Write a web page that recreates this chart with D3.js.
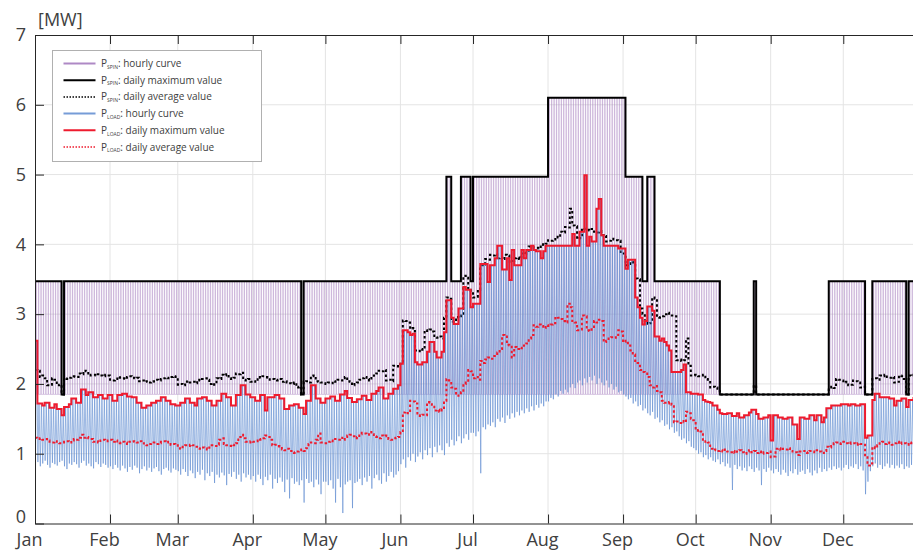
<!DOCTYPE html>
<html>
<head>
<meta charset="utf-8">
<script src="https://cdn.jsdelivr.net/npm/d3@7"></script>
<style>
  html, body { margin: 0; padding: 0; background: #fff; }
  svg { display: block; font-family: "Open Sans", "Noto Sans", "DejaVu Sans", sans-serif; }
</style>
</head>
<body>
<svg id="chart" width="913" height="554"></svg>
<script>
// ---- axis tick labels ----
const monthLabels = ["Jan","Feb","Mar","Apr","May","Jun","Jul","Aug","Sep","Oct","Nov","Dec"];
const monthStartDays = [0,31,59,90,120,151,181,212,243,273,304,334];
const yTickValues = [0,1,2,3,4,5,6,7];
const unitLabel = "[MW]";

// ---- P_SPIN daily maximum as runs: [first day, last day, MW] ----
const spinMaxRuns = [
  [0,10,3.47],[11,11,1.85],[12,109,3.47],[110,110,1.85],[111,169,3.47],
  [170,171,4.97],[172,175,3.47],[176,179,4.97],[180,180,3.47],[181,211,4.97],
  [212,243,6.1],[244,250,4.97],[251,252,3.47],[253,255,4.97],[256,282,3.47],
  [283,296,1.85],[297,297,3.47],[298,327,1.85],[328,342,3.47],[343,345,1.85],
  [346,359,3.47],[360,360,1.85],[361,364,3.47]
];
// lowest hourly P_SPIN level (one unit online)
const spinHourlyLow = 1.85;

// ---- P_SPIN daily average (one value per day of year) ----
const spinDailyAvg = [
  2.2,2.19,2.1,2.12,2.08,1.98,1.99,2.08,2.06,1.98,1.99,1.85,2.08,2.07,2.09,2.1,2.11,2.1,2.15,2.14,2.19,2.18,2.12,2.13,2.13,2.12,2.14,2.12,2.11,2.13,2.12,
  2.06,2.05,2.07,2.1,2.09,2.08,2.07,2.1,2.11,2.09,2.08,2.09,2.04,2.05,2.03,2.04,2.02,2.03,2.04,2.06,2.05,2.07,2.08,2.09,2.08,2.1,2.11,2.1,
  1.99,2.0,1.98,2.03,2.04,2.02,2.03,2.01,2.06,2.05,2.07,2.08,2.06,2.0,2.01,1.99,2.08,2.07,2.13,2.12,2.14,2.08,2.07,2.09,2.15,2.14,2.16,2.06,2.05,2.07,2.03,
  2.04,2.03,2.1,2.09,2.11,2.1,2.09,2.06,2.07,2.06,2.05,2.07,2.03,2.04,2.02,2.01,2.0,2.02,1.95,1.96,1.85,2.03,2.04,2.02,2.11,2.12,2.04,2.03,2.02,2.01,
  2.0,2.02,2.01,2.04,2.03,2.06,2.05,2.08,2.1,2.04,2.03,1.98,2.0,2.02,2.06,2.08,2.1,2.07,2.05,2.1,2.12,2.15,2.19,2.18,2.2,2.05,2.06,2.04,2.26,2.25,2.27,
  2.29,2.91,2.9,2.88,2.79,2.8,2.48,2.47,2.5,2.49,2.77,2.76,2.78,2.75,2.67,2.66,2.68,2.65,2.95,3.24,3.22,2.89,2.9,2.96,2.95,2.98,3.55,3.52,3.35,3.33,
  3.24,3.25,3.35,3.7,3.71,3.79,3.78,3.85,3.84,3.86,3.8,3.82,3.79,3.85,3.84,3.75,3.76,3.8,3.81,3.79,3.87,3.86,3.88,3.97,3.96,3.95,3.95,3.94,4.0,3.99,4.01,
  4.06,4.05,4.07,4.11,4.1,4.18,4.17,4.25,4.24,4.51,4.27,4.26,4.08,4.09,4.23,4.22,4.21,4.2,4.22,4.18,4.17,4.19,4.13,4.12,4.04,4.05,4.08,4.07,4.06,4.05,3.87,
  3.87,3.7,3.72,3.75,3.74,3.51,3.5,3.08,3.0,2.9,2.86,2.87,3.24,3.22,2.96,2.95,2.97,3.0,3.02,2.98,2.98,2.97,2.34,2.35,2.33,2.34,2.65,2.26,2.12,2.13,
  2.12,2.11,2.12,2.13,2.07,2.06,1.95,1.96,1.95,1.9,1.85,1.85,1.85,1.85,1.85,1.85,1.85,1.85,1.85,1.85,1.85,1.85,1.85,1.85,1.98,1.85,1.85,1.85,1.85,1.85,1.85,
  1.85,1.85,1.85,1.85,1.85,1.85,1.85,1.85,1.85,1.85,1.85,1.85,1.85,1.85,1.85,1.85,1.85,1.85,1.85,1.85,1.85,1.85,1.85,1.85,1.95,1.96,1.94,2.07,2.06,2.05,
  2.02,2.03,1.98,1.99,2.05,2.04,2.02,1.95,1.96,1.85,1.85,1.85,2.07,2.08,2.06,2.12,2.11,2.13,2.1,2.09,2.1,2.02,2.03,2.12,2.11,2.07,1.85,2.12,2.11,2.13,2.12
];

// ---- P_LOAD daily maximum ----
const loadDailyMax = [
  2.62,1.72,1.72,1.69,1.73,1.73,1.66,1.66,1.71,1.64,1.64,1.55,1.67,1.67,1.71,1.79,1.79,1.73,1.73,1.92,1.92,1.84,1.88,1.88,1.81,1.81,1.84,1.84,1.79,1.79,1.84,
  1.84,1.76,1.76,1.84,1.84,1.86,1.86,1.82,1.82,1.81,1.81,1.73,1.73,1.66,1.66,1.69,1.69,1.73,1.73,1.76,1.76,1.81,1.81,1.76,1.76,1.71,1.71,1.69,
  1.69,1.73,1.73,1.79,1.79,1.73,1.73,1.69,1.79,1.79,1.81,1.81,1.76,1.76,1.69,1.69,1.76,1.76,1.86,1.86,1.81,1.81,1.69,1.69,1.84,1.84,1.98,1.98,1.85,1.85,1.81,
  1.81,1.76,1.76,1.84,1.84,1.62,1.81,1.81,1.81,1.84,1.84,1.79,1.79,1.64,1.64,1.69,1.69,1.71,1.71,1.66,1.66,1.57,1.76,1.76,1.98,1.98,1.79,1.79,1.73,1.73,
  1.79,1.79,1.82,1.82,1.76,1.76,1.85,1.85,1.9,1.8,1.8,1.74,1.74,1.78,1.78,1.83,1.83,1.77,1.77,1.86,1.86,1.9,1.95,1.95,1.79,1.79,1.86,1.86,1.93,1.93,1.98,
  2.29,2.77,2.77,2.74,2.7,2.72,2.31,2.28,2.28,2.31,2.31,2.46,2.6,2.6,2.46,2.38,2.38,2.46,2.74,3.2,3.2,2.95,2.86,2.86,3.08,3.08,3.39,3.35,3.35,3.1,
  3.15,3.15,3.15,3.72,3.72,3.72,3.46,3.7,3.7,3.8,3.98,3.98,3.64,3.64,3.8,3.49,3.92,3.7,3.7,3.7,3.92,3.8,3.92,3.92,3.98,3.92,3.9,3.9,3.8,3.9,3.98,
  3.98,3.98,3.98,3.98,3.98,3.98,3.98,3.98,3.98,3.98,4.15,3.98,3.98,4.18,4.18,4.99,3.98,4.11,4.04,4.04,4.51,4.65,4.13,3.98,3.98,3.98,3.98,3.98,3.98,3.94,3.94,
  3.94,3.65,3.78,3.78,3.78,3.24,3.1,2.95,2.85,2.9,3.11,3.11,3.05,2.68,2.68,2.62,2.65,2.6,2.55,2.48,2.17,2.17,2.17,2.17,2.2,2.28,1.88,1.88,1.86,1.86,
  1.86,1.85,1.85,1.77,1.75,1.74,1.73,1.69,1.69,1.63,1.58,1.57,1.57,1.58,1.58,1.54,1.54,1.58,1.52,1.52,1.55,1.55,1.59,1.63,1.63,1.57,1.5,1.5,1.52,1.52,1.55,
  1.19,1.55,1.55,1.52,1.52,1.5,1.5,1.52,1.52,1.42,1.42,1.21,1.52,1.52,1.5,1.5,1.55,1.55,1.48,1.55,1.55,1.45,1.52,1.65,1.65,1.69,1.69,1.69,1.69,1.71,
  1.71,1.71,1.69,1.71,1.71,1.69,1.69,1.71,1.71,1.23,1.26,1.26,1.77,1.86,1.86,1.81,1.81,1.81,1.81,1.79,1.79,1.69,1.76,1.76,1.79,1.79,1.67,1.77,1.77,1.8,1.8
];

// ---- P_LOAD daily average ----
const loadDailyAvg = [
  1.23,1.21,1.22,1.2,1.21,1.19,1.17,1.16,1.18,1.17,1.15,1.16,1.17,1.18,1.16,1.19,1.21,1.2,1.23,1.27,1.23,1.24,1.22,1.21,1.17,1.18,1.16,1.19,1.2,1.18,1.19,
  1.2,1.17,1.19,1.16,1.15,1.17,1.16,1.14,1.17,1.18,1.17,1.16,1.18,1.15,1.13,1.12,1.14,1.15,1.16,1.14,1.15,1.17,1.18,1.16,1.17,1.13,1.14,1.12,
  1.08,1.07,1.1,1.12,1.11,1.13,1.12,1.1,1.08,1.07,1.09,1.08,1.06,1.09,1.12,1.11,1.13,1.2,1.22,1.14,1.12,1.11,1.13,1.12,1.15,1.24,1.27,1.22,1.17,1.16,1.18,
  1.17,1.18,1.21,1.2,1.22,1.26,1.24,1.2,1.12,1.13,1.11,1.1,1.06,1.05,1.07,1.04,1.02,1.01,1.03,1.05,1.06,1.04,1.08,1.14,1.16,1.15,1.2,1.29,1.16,1.15,
  1.15,1.17,1.19,1.18,1.21,1.2,1.23,1.2,1.24,1.26,1.27,1.25,1.22,1.24,1.28,1.3,1.29,1.27,1.31,1.28,1.25,1.24,1.22,1.26,1.25,1.26,1.21,1.2,1.22,1.23,1.24,
  1.31,1.59,1.6,1.58,1.76,1.75,1.72,1.55,1.54,1.56,1.55,1.74,1.73,1.7,1.62,1.63,1.6,1.64,1.76,2.07,2.05,1.95,1.93,1.83,1.85,1.88,2.0,2.02,2.2,2.18,
  2.08,2.1,2.06,2.33,2.3,2.35,2.38,2.36,2.4,2.43,2.45,2.5,2.7,2.68,2.56,2.55,2.38,2.53,2.5,2.52,2.51,2.55,2.58,2.65,2.7,2.84,2.82,2.85,2.83,2.8,2.84,
  2.83,2.85,2.87,2.96,2.95,2.93,2.9,2.88,3.15,3.1,2.9,2.88,2.77,2.78,2.98,2.97,2.77,2.76,2.8,2.9,2.88,2.92,2.9,2.6,2.62,2.65,2.67,2.66,2.7,2.77,2.75,
  2.6,2.62,2.55,2.48,2.42,2.33,2.3,2.2,2.17,2.15,2.1,1.98,1.95,1.97,1.9,1.88,1.76,1.73,1.72,1.74,1.7,1.45,1.46,1.44,1.47,1.45,1.6,1.58,1.5,1.48,
  1.33,1.34,1.32,1.17,1.18,1.16,1.07,1.05,1.06,1.04,1.05,1.03,1.06,1.03,1.02,1.04,1.01,1.03,1.05,1.02,1.0,1.03,1.05,1.02,1.04,1.01,1.03,1.0,1.02,1.01,1.03,
  0.95,0.96,1.07,1.08,1.05,1.07,1.06,1.08,1.04,1.03,1.02,0.98,1.03,1.04,1.02,1.01,1.04,1.03,1.02,1.05,1.03,1.01,1.04,1.1,1.09,1.11,1.15,1.16,1.14,1.15,
  1.17,1.15,1.14,1.16,1.15,1.13,1.15,1.14,1.13,0.95,0.83,0.86,1.1,1.08,1.12,1.15,1.17,1.14,1.16,1.15,1.13,1.15,1.17,1.14,1.16,1.15,1.13,1.16,1.15,1.14,1.15
];

// ---- P_LOAD daily minimum (lower edge of the hourly trace) ----
const loadDailyMin = [
  0.85,0.88,0.82,0.86,0.9,0.84,0.8,0.87,0.85,0.83,0.88,0.9,0.82,0.78,0.86,0.84,0.88,0.85,0.8,0.87,0.9,0.83,0.86,0.82,0.79,0.88,0.85,0.81,0.86,0.84,0.8,
  0.82,0.78,0.84,0.8,0.76,0.83,0.79,0.74,0.81,0.77,0.83,0.8,0.72,0.78,0.82,0.76,0.8,0.74,0.79,0.81,0.75,0.7,0.78,0.8,0.76,0.73,0.79,0.77,
  0.75,0.7,0.78,0.74,0.68,0.76,0.72,0.65,0.74,0.7,0.77,0.62,0.72,0.68,0.74,0.58,0.7,0.66,0.73,0.69,0.55,0.71,0.67,0.74,0.64,0.7,0.6,0.72,0.66,0.7,0.63,
  0.68,0.6,0.7,0.64,0.55,0.67,0.62,0.7,0.5,0.64,0.58,0.66,0.6,0.45,0.63,0.36,0.65,0.57,0.6,0.55,0.62,0.3,0.64,0.58,0.6,0.52,0.63,0.56,0.42,0.6,
  0.6,0.55,0.62,0.5,0.3,0.64,0.52,0.15,0.56,0.6,0.62,0.22,0.58,0.6,0.64,0.55,0.66,0.6,0.68,0.5,0.65,0.7,0.62,0.57,0.72,0.6,0.68,0.74,0.66,0.7,0.75,
  0.85,0.92,0.8,0.95,0.9,1.0,0.88,0.96,1.02,0.92,1.05,0.98,1.08,0.95,1.1,1.02,1.12,1.05,0.98,1.15,1.1,1.2,1.12,1.18,1.25,1.15,1.22,1.28,1.2,1.3,
  1.3,1.25,1.32,0.72,1.38,1.35,1.42,1.4,1.45,1.38,1.5,1.46,1.52,1.44,1.55,1.5,1.58,1.52,1.6,1.55,1.62,1.58,1.65,1.6,1.68,1.62,1.7,1.66,1.72,1.68,1.75,
  1.75,1.8,1.78,1.85,1.82,1.9,1.86,1.92,1.88,1.95,2.0,1.94,2.02,2.05,1.98,2.08,2.02,2.1,2.05,2.12,2.0,2.08,2.02,1.98,2.05,1.95,2.0,1.92,1.96,1.88,1.9,
  1.85,1.82,1.78,1.8,1.72,1.75,1.68,1.7,1.62,1.65,1.58,1.55,1.6,1.5,1.52,1.45,1.48,1.4,1.42,1.35,1.38,1.3,1.32,1.25,1.2,1.22,1.15,1.18,1.1,1.08,
  1.05,1.0,1.02,0.95,0.98,0.92,0.95,0.9,0.88,0.92,0.85,0.88,0.82,0.86,0.8,0.48,0.84,0.78,0.82,0.76,0.8,0.75,0.82,0.78,0.74,0.8,0.76,0.55,0.78,0.74,0.8,
  0.76,0.72,0.78,0.74,0.7,0.77,0.73,0.68,0.75,0.72,0.78,0.7,0.74,0.76,0.71,0.78,0.73,0.69,0.76,0.72,0.8,0.74,0.78,0.75,0.8,0.77,0.82,0.78,0.8,0.76,
  0.8,0.84,0.78,0.82,0.8,0.85,0.78,0.82,0.76,0.42,0.6,0.75,0.82,0.86,0.8,0.84,0.78,0.82,0.86,0.8,0.84,0.79,0.83,0.8,0.85,0.78,0.82,0.8,0.84,0.8,0.82
];

// ---- colours ----
const C = {
  spinHourly: "#a57cbf",
  spinMax: "#000000",
  spinAvg: "#000000",
  loadHourly: "#5e8bd0",
  loadMax: "#ee1b2e",
  loadAvg: "#ee1b2e",
  axis: "#262626",
  text: "#404040",
  grid: "#e4e4e4"
};

const svg = d3.select("#chart");
const nDays = 365;
const x = d3.scaleLinear().domain([0, nDays]).range([35, 918.3]);
const y = d3.scaleLinear().domain([0, 7]).range([523.5, 35]);

// expand the run list into one value per day
const spinDailyMax = [];
spinMaxRuns.forEach(([a, b, v]) => { for (let d = a; d <= b; d++) spinDailyMax[d] = v; });

// ---- grid ----
const grid = svg.append("g").attr("class", "grid");
grid.selectAll("line.v").data(monthStartDays.slice(1)).join("line").attr("class", "v")
  .attr("x1", d => x(d)).attr("x2", d => x(d))
  .attr("y1", y(0)).attr("y2", y(7))
  .attr("stroke", C.grid).attr("stroke-width", 1);
grid.selectAll("line.h").data(yTickValues.slice(1, -1)).join("line").attr("class", "h")
  .attr("x1", x(0)).attr("x2", x(nDays))
  .attr("y1", d => y(d)).attr("y2", d => y(d))
  .attr("stroke", C.grid).attr("stroke-width", 1);

// ---- plotting area ----
svg.append("clipPath").attr("id", "plotArea").append("rect")
  .attr("x", x(0)).attr("y", y(7))
  .attr("width", x(nDays) - x(0)).attr("height", y(0) - y(7));
const plot = svg.append("g").attr("clip-path", "url(#plotArea)");

const linePts = d3.line().x(p => x(p[0])).y(p => y(p[1]));
const stepLine = d3.line().x(p => x(p[0])).y(p => y(p[1])).curve(d3.curveStepAfter);
const stepPoints = arr => arr.map((v, d) => [d, v]).concat([[arr.length, arr[arr.length - 1]]]);

// P_SPIN hourly: low level through the night, daily maximum during the day
const spinHourlyPts = [];
spinDailyMax.forEach((v, d) => {
  spinHourlyPts.push([d, spinHourlyLow], [d + 0.42, spinHourlyLow], [d + 0.42, v],
                     [d + 0.58, v], [d + 0.58, spinHourlyLow]);
});
spinHourlyPts.push([nDays, spinHourlyLow]);
plot.append("path").attr("d", linePts(spinHourlyPts))
  .attr("fill", "none").attr("stroke", C.spinHourly)
  .attr("stroke-width", 0.8).attr("stroke-opacity", 0.5);

// P_SPIN daily max / average
plot.append("path").attr("d", stepLine(stepPoints(spinDailyMax)))
  .attr("fill", "none").attr("stroke", C.spinMax).attr("stroke-width", 2);
plot.append("path").attr("d", stepLine(stepPoints(spinDailyAvg)))
  .attr("fill", "none").attr("stroke", C.spinAvg).attr("stroke-width", 2)
  .attr("stroke-dasharray", "2.5,2.5");

// P_LOAD hourly trace between the daily low and the daily peak
const loadHourlyPts = [];
loadDailyMax.forEach((v, d) => {
  loadHourlyPts.push([d + 0.2, loadDailyMin[d]], [d + 0.65, v]);
});
plot.append("path").attr("d", linePts(loadHourlyPts))
  .attr("fill", "none").attr("stroke", C.loadHourly)
  .attr("stroke-width", 1).attr("stroke-opacity", 0.6);

// P_LOAD daily max / average
plot.append("path").attr("d", stepLine(stepPoints(loadDailyMax)))
  .attr("fill", "none").attr("stroke", C.loadMax).attr("stroke-width", 2);
plot.append("path").attr("d", stepLine(stepPoints(loadDailyAvg)))
  .attr("fill", "none").attr("stroke", C.loadAvg).attr("stroke-width", 2)
  .attr("stroke-dasharray", "2.5,2.5");

// ---- axes ----
const xAxis = d3.axisBottom(x).tickValues(monthStartDays)
  .tickFormat((d, i) => monthLabels[i]).tickSizeInner(-9).tickSizeOuter(0).tickPadding(10);
const gx = svg.append("g").attr("transform", `translate(0,${y(0)})`).call(xAxis);
gx.select(".domain").attr("stroke", C.axis);
gx.selectAll(".tick line").attr("stroke", C.axis);
gx.selectAll(".tick text").attr("fill", C.text).attr("font-size", 18)
  .attr("font-family", "'Open Sans', 'Noto Sans', sans-serif").attr("dx", -6);

const xTop = d3.axisTop(x).tickValues(monthStartDays).tickFormat("").tickSizeInner(-9).tickSizeOuter(0);
const gt = svg.append("g").attr("transform", `translate(0,${y(7)})`).call(xTop);
gt.select(".domain").attr("stroke", C.axis);
gt.selectAll(".tick line").attr("stroke", C.axis);

const yAxis = d3.axisLeft(y).tickValues(yTickValues).tickFormat(d3.format("d"))
  .tickSizeInner(-9).tickSizeOuter(0).tickPadding(9);
const gy = svg.append("g").attr("transform", `translate(${x(0)},0)`).call(yAxis);
gy.select(".domain").attr("stroke", C.axis);
gy.selectAll(".tick line").attr("stroke", C.axis);
gy.selectAll(".tick text").attr("fill", C.text).attr("font-size", 18)
  .attr("font-family", "'Open Sans', 'Noto Sans', sans-serif")
  .attr("dy", d => d === 0 ? "-0.05em" : "0.32em");

svg.append("text").attr("x", 38).attr("y", 26).attr("fill", C.text)
  .attr("font-size", 18).text(unitLabel);

// ---- legend ----
const legendItems = [
  { sub: "SPIN", label: ": hourly curve",        color: C.spinHourly, width: 2,   dash: null, opacity: 0.9 },
  { sub: "SPIN", label: ": daily maximum value", color: C.spinMax,    width: 2,   dash: null, opacity: 1 },
  { sub: "SPIN", label: ": daily average value", color: C.spinAvg,    width: 1.5, dash: "1.5,1.5", opacity: 1 },
  { sub: "LOAD", label: ": hourly curve",        color: C.loadHourly, width: 2,   dash: null, opacity: 0.85 },
  { sub: "LOAD", label: ": daily maximum value", color: C.loadMax,    width: 2,   dash: null, opacity: 1 },
  { sub: "LOAD", label: ": daily average value", color: C.loadAvg,    width: 1.5, dash: "1.5,1.5", opacity: 1 }
];
const lg = svg.append("g").attr("transform", "translate(52.5,50.5)");
lg.append("rect").attr("width", 209).attr("height", 111)
  .attr("fill", "#fff").attr("stroke", "#b0b0b0").attr("stroke-width", 1);
const rows = lg.selectAll("g.row").data(legendItems).join("g").attr("class", "row")
  .attr("transform", (d, i) => `translate(0,${13 + i * 16.7})`);
rows.append("line").attr("x1", 11).attr("x2", 43).attr("y1", 0).attr("y2", 0)
  .attr("stroke", d => d.color).attr("stroke-width", d => d.width)
  .attr("stroke-opacity", d => d.opacity)
  .attr("stroke-dasharray", d => d.dash);
const t = rows.append("text").attr("x", 48.5).attr("y", 3.5)
  .attr("font-size", 10).attr("fill", C.text);
t.append("tspan").text("P");
t.append("tspan").attr("font-size", 5).attr("dy", 1.8).text(d => d.sub);
t.append("tspan").attr("dy", -1.8).text(d => d.label);
</script>
</body>
</html>
